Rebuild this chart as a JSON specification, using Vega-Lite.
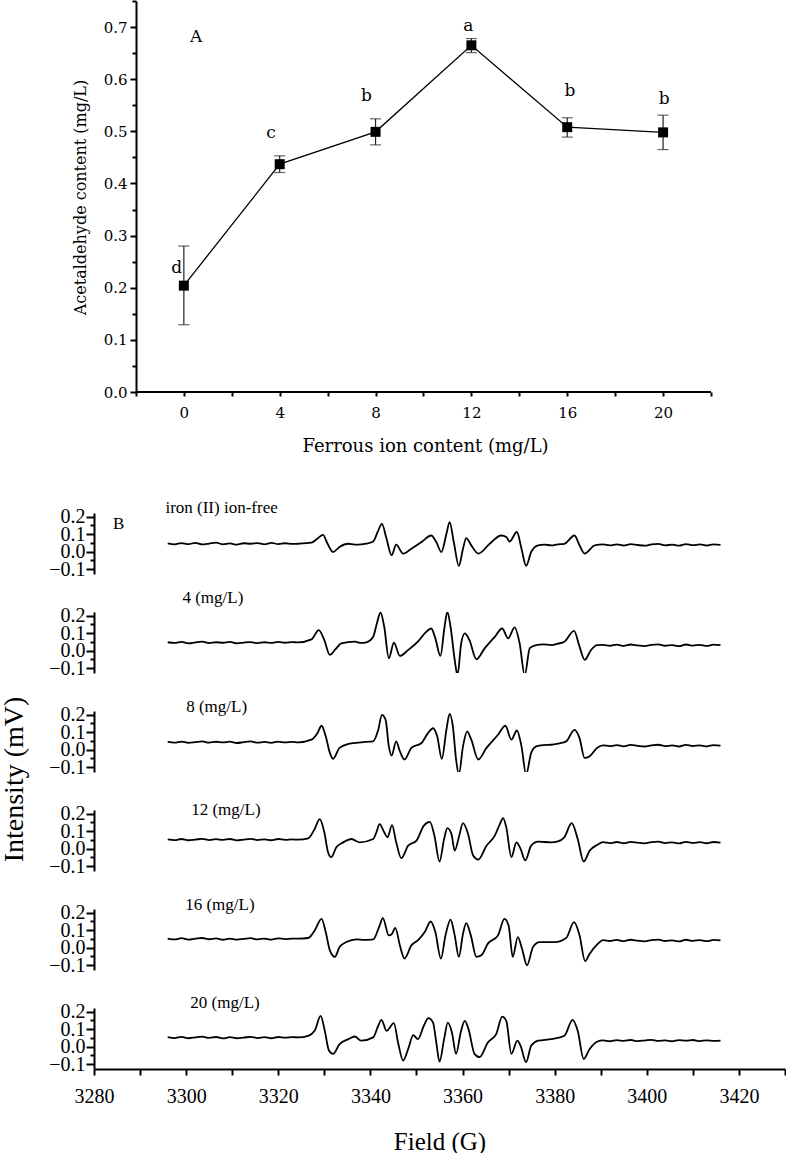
{
"$schema":"https://vega.github.io/schema/vega-lite/v6.json",
"background":"white",
"padding":0,
"config":{"view":{"stroke":null},"axis":{"domainColor":"black","tickColor":"black","domainWidth":2,"tickWidth":2,"labelColor":"black","titleColor":"black","grid":false,"titleFontWeight":"normal","labelOverlap":false,"labelFlush":false}},
"datasets":{
"acet":[{"fe":0,"m":0.204,"lo":0.129,"hi":0.280},{"fe":4,"m":0.437,"lo":0.421,"hi":0.453},{"fe":8,"m":0.499,"lo":0.474,"hi":0.524},{"fe":12,"m":0.665,"lo":0.651,"hi":0.678},{"fe":16,"m":0.508,"lo":0.489,"hi":0.526},{"fe":20,"m":0.498,"lo":0.465,"hi":0.531}],
"letters":[{"lx":-0.3,"ly":0.237,"t":"d"},{"lx":3.64,"ly":0.496,"t":"c"},{"lx":7.62,"ly":0.568,"t":"b"},{"lx":11.875,"ly":0.702,"t":"a"},{"lx":16.11,"ly":0.578,"t":"b"},{"lx":20.05,"ly":0.562,"t":"b"},{"lx":0.51,"ly":0.681,"t":"A"}],
"xline":[{"a":-2,"b":22,"y":0}],
"p1":[{"f":3296,"v":0.047},{"f":3297.5,"v":0.042},{"f":3299,"v":0.049},{"f":3300.5,"v":0.043},{"f":3302,"v":0.050},{"f":3303.5,"v":0.041},{"f":3305,"v":0.046},{"f":3306.5,"v":0.051},{"f":3308,"v":0.042},{"f":3309.5,"v":0.047},{"f":3311,"v":0.040},{"f":3312.5,"v":0.048},{"f":3314,"v":0.045},{"f":3315.5,"v":0.049},{"f":3317,"v":0.042},{"f":3318.5,"v":0.050},{"f":3320,"v":0.043},{"f":3321.5,"v":0.048},{"f":3323,"v":0.044},
{"f":3324.3,"v":0.045},{"f":3327.2,"v":0.051},{"f":3328.6,"v":0.077},{"f":3329.7,"v":0.096},{"f":3330.7,"v":0.045},{"f":3331.9,"v":-0.002},{"f":3333.3,"v":0.027},{"f":3335.2,"v":0.045},{"f":3336.6,"v":0.040},{"f":3338.0,"v":0.041},{"f":3339.1,"v":0.046},{"f":3340.6,"v":0.058},{"f":3341.7,"v":0.120},{"f":3342.5,"v":0.158},{"f":3343.5,"v":0.073},{"f":3344.6,"v":-0.020},{"f":3345.6,"v":0.040},{"f":3347.1,"v":-0.011},{"f":3348.9,"v":0.017},{"f":3351.1,"v":0.055},{"f":3353.2,"v":0.092},{"f":3354.3,"v":0.055},{"f":3355.4,"v":-0.002},{"f":3356.5,"v":0.101},{"f":3357.2,"v":0.168},{"f":3358.1,"v":0.055},{"f":3359.2,"v":-0.081},{"f":3360.1,"v":0.017},{"f":3360.8,"v":0.077},{"f":3361.9,"v":0.036},{"f":3363.4,"v":-0.011},{"f":3365.9,"v":0.045},{"f":3368.4,"v":0.092},{"f":3369.5,"v":0.083},{"f":3370.2,"v":0.058},{"f":3371.8,"v":0.112},{"f":3372.8,"v":0.017},{"f":3373.8,"v":-0.081},{"f":3374.9,"v":-0.002},{"f":3376.4,"v":0.036},{"f":3377.8,"v":0.040},{"f":3379.3,"v":0.036},{"f":3380.7,"v":0.042},{"f":3382.1,"v":0.045},{"f":3384.3,"v":0.092},{"f":3385.4,"v":0.036},{"f":3386.5,"v":-0.011},{"f":3388.7,"v":0.036},
{"f":3390.5,"v":0.041},{"f":3392,"v":0.036},{"f":3393.5,"v":0.042},{"f":3395,"v":0.035},{"f":3396.5,"v":0.043},{"f":3398,"v":0.038},{"f":3399.5,"v":0.034},{"f":3401,"v":0.041},{"f":3402.5,"v":0.044},{"f":3404,"v":0.036},{"f":3405.5,"v":0.040},{"f":3407,"v":0.034},{"f":3408.5,"v":0.043},{"f":3410,"v":0.037},{"f":3411.5,"v":0.041},{"f":3413,"v":0.035},{"f":3414.5,"v":0.042},{"f":3416,"v":0.039}],
"p2":[{"f":3296,"v":0.048},{"f":3297.5,"v":0.044},{"f":3299,"v":0.050},{"f":3300.5,"v":0.042},{"f":3302,"v":0.047},{"f":3303.5,"v":0.051},{"f":3305,"v":0.043},{"f":3306.5,"v":0.048},{"f":3308,"v":0.045},{"f":3309.5,"v":0.050},{"f":3311,"v":0.041},{"f":3312.5,"v":0.046},{"f":3314,"v":0.049},{"f":3315.5,"v":0.043},{"f":3317,"v":0.048},{"f":3318.5,"v":0.044},{"f":3320,"v":0.050},{"f":3321.5,"v":0.045},{"f":3323,"v":0.049},
{"f":3324.3,"v":0.047},{"f":3327.2,"v":0.064},{"f":3328.8,"v":0.117},{"f":3330.0,"v":0.060},{"f":3331.2,"v":-0.024},{"f":3332.3,"v":0.004},{"f":3333.7,"v":0.041},{"f":3336.6,"v":0.051},{"f":3338.0,"v":0.044},{"f":3339.1,"v":0.047},{"f":3340.6,"v":0.079},{"f":3341.4,"v":0.155},{"f":3342.2,"v":0.217},{"f":3343.0,"v":0.136},{"f":3344.0,"v":-0.043},{"f":3345.1,"v":0.045},{"f":3346.4,"v":-0.030},{"f":3348.2,"v":0.004},{"f":3350.3,"v":0.051},{"f":3352.1,"v":0.107},{"f":3353.2,"v":0.126},{"f":3354.1,"v":0.070},{"f":3355.2,"v":-0.030},{"f":3356.1,"v":0.136},{"f":3356.7,"v":0.220},{"f":3357.4,"v":0.136},{"f":3358.3,"v":-0.052},{"f":3358.9,"v":-0.140},{"f":3359.7,"v":0.041},{"f":3360.5,"v":0.098},{"f":3361.5,"v":0.060},{"f":3363.0,"v":-0.049},{"f":3364.8,"v":0.013},{"f":3367.0,"v":0.079},{"f":3368.6,"v":0.126},{"f":3369.9,"v":0.070},{"f":3371.3,"v":0.132},{"f":3372.4,"v":0.041},{"f":3373.5,"v":-0.140},{"f":3374.6,"v":0.015},{"f":3376.0,"v":0.032},{"f":3377.5,"v":0.036},{"f":3379.3,"v":0.032},{"f":3380.7,"v":0.040},{"f":3382.1,"v":0.051},{"f":3384.2,"v":0.113},{"f":3385.4,"v":0.023},{"f":3386.5,"v":-0.052},{"f":3387.9,"v":0.004},{"f":3389.2,"v":0.032},
{"f":3390.5,"v":0.033},{"f":3392,"v":0.028},{"f":3393.5,"v":0.034},{"f":3395,"v":0.027},{"f":3396.5,"v":0.035},{"f":3398,"v":0.030},{"f":3399.5,"v":0.026},{"f":3401,"v":0.033},{"f":3402.5,"v":0.036},{"f":3404,"v":0.028},{"f":3405.5,"v":0.032},{"f":3407,"v":0.026},{"f":3408.5,"v":0.035},{"f":3410,"v":0.029},{"f":3411.5,"v":0.033},{"f":3413,"v":0.027},{"f":3414.5,"v":0.034},{"f":3416,"v":0.031}],
"p3":[{"f":3296,"v":0.044},{"f":3297.5,"v":0.040},{"f":3299,"v":0.046},{"f":3300.5,"v":0.039},{"f":3302,"v":0.043},{"f":3303.5,"v":0.047},{"f":3305,"v":0.040},{"f":3306.5,"v":0.045},{"f":3308,"v":0.041},{"f":3309.5,"v":0.046},{"f":3311,"v":0.038},{"f":3312.5,"v":0.043},{"f":3314,"v":0.047},{"f":3315.5,"v":0.040},{"f":3317,"v":0.044},{"f":3318.5,"v":0.039},{"f":3320,"v":0.046},{"f":3321.5,"v":0.041},{"f":3323,"v":0.044},
{"f":3324.3,"v":0.042},{"f":3327.2,"v":0.057},{"f":3328.5,"v":0.094},{"f":3329.4,"v":0.136},{"f":3330.3,"v":0.076},{"f":3331.2,"v":-0.018},{"f":3331.9,"v":-0.052},{"f":3333.3,"v":0.010},{"f":3335.5,"v":0.034},{"f":3338.0,"v":0.042},{"f":3340.6,"v":0.047},{"f":3341.7,"v":0.113},{"f":3342.5,"v":0.198},{"f":3343.3,"v":0.170},{"f":3344.0,"v":0.019},{"f":3344.6,"v":-0.033},{"f":3345.6,"v":0.047},{"f":3346.4,"v":-0.009},{"f":3347.4,"v":-0.056},{"f":3348.9,"v":0.010},{"f":3351.1,"v":0.038},{"f":3352.5,"v":0.094},{"f":3353.6,"v":0.122},{"f":3354.5,"v":0.076},{"f":3355.5,"v":-0.052},{"f":3356.5,"v":0.113},{"f":3357.2,"v":0.204},{"f":3357.9,"v":0.132},{"f":3358.6,"v":-0.056},{"f":3359.2,"v":-0.141},{"f":3360.1,"v":0.019},{"f":3361.0,"v":0.104},{"f":3361.9,"v":0.057},{"f":3363.4,"v":-0.056},{"f":3365.2,"v":0.010},{"f":3367.7,"v":0.085},{"f":3369.3,"v":0.136},{"f":3370.6,"v":0.057},{"f":3371.8,"v":0.109},{"f":3372.8,"v":0.019},{"f":3373.8,"v":-0.141},{"f":3374.9,"v":-0.018},{"f":3376.0,"v":0.019},{"f":3377.5,"v":0.026},{"f":3379.3,"v":0.028},{"f":3380.8,"v":0.035},{"f":3382.5,"v":0.047},{"f":3384.3,"v":0.113},{"f":3385.4,"v":0.066},{"f":3386.5,"v":-0.047},{"f":3387.6,"v":-0.037},{"f":3389.2,"v":0.010},
{"f":3390.5,"v":0.025},{"f":3392,"v":0.020},{"f":3393.5,"v":0.026},{"f":3395,"v":0.019},{"f":3396.5,"v":0.027},{"f":3398,"v":0.022},{"f":3399.5,"v":0.018},{"f":3401,"v":0.025},{"f":3402.5,"v":0.028},{"f":3404,"v":0.020},{"f":3405.5,"v":0.024},{"f":3407,"v":0.018},{"f":3408.5,"v":0.027},{"f":3410,"v":0.021},{"f":3411.5,"v":0.025},{"f":3413,"v":0.019},{"f":3414.5,"v":0.026},{"f":3416,"v":0.023}],
"p4":[{"f":3296,"v":0.053},{"f":3297.5,"v":0.049},{"f":3299,"v":0.055},{"f":3300.5,"v":0.048},{"f":3302,"v":0.052},{"f":3303.5,"v":0.056},{"f":3305,"v":0.049},{"f":3306.5,"v":0.054},{"f":3308,"v":0.050},{"f":3309.5,"v":0.055},{"f":3311,"v":0.047},{"f":3312.5,"v":0.052},{"f":3314,"v":0.056},{"f":3315.5,"v":0.049},{"f":3317,"v":0.053},{"f":3318.5,"v":0.048},{"f":3320,"v":0.055},{"f":3321.5,"v":0.050},{"f":3323,"v":0.053},
{"f":3324.3,"v":0.051},{"f":3326.5,"v":0.059},{"f":3327.9,"v":0.112},{"f":3329.0,"v":0.168},{"f":3330.0,"v":0.093},{"f":3330.8,"v":-0.020},{"f":3331.5,"v":-0.048},{"f":3332.6,"v":0.008},{"f":3334.1,"v":0.036},{"f":3335.9,"v":0.055},{"f":3337.7,"v":0.036},{"f":3340.6,"v":0.055},{"f":3341.3,"v":0.093},{"f":3342.0,"v":0.140},{"f":3343.0,"v":0.093},{"f":3343.7,"v":0.065},{"f":3344.7,"v":0.134},{"f":3345.6,"v":0.036},{"f":3346.7,"v":-0.054},{"f":3348.2,"v":0.017},{"f":3350.0,"v":0.046},{"f":3351.6,"v":0.131},{"f":3352.9,"v":0.153},{"f":3353.9,"v":0.074},{"f":3355.0,"v":-0.073},{"f":3356.0,"v":0.055},{"f":3356.7,"v":0.117},{"f":3357.6,"v":0.083},{"f":3358.3,"v":-0.011},{"f":3359.2,"v":0.065},{"f":3360.1,"v":0.145},{"f":3361.2,"v":0.083},{"f":3362.3,"v":-0.039},{"f":3363.4,"v":-0.062},{"f":3365.2,"v":0.017},{"f":3367.0,"v":0.074},{"f":3368.1,"v":0.140},{"f":3368.8,"v":0.174},{"f":3369.5,"v":0.121},{"f":3370.6,"v":-0.048},{"f":3371.7,"v":0.036},{"f":3372.6,"v":-0.001},{"f":3373.6,"v":-0.067},{"f":3374.9,"v":0.017},{"f":3376.4,"v":0.040},{"f":3379.3,"v":0.036},{"f":3380.7,"v":0.041},{"f":3382.1,"v":0.065},{"f":3383.7,"v":0.145},{"f":3385.0,"v":0.055},{"f":3386.3,"v":-0.073},{"f":3387.6,"v":-0.011},{"f":3389.2,"v":0.021},
{"f":3390.5,"v":0.037},{"f":3392,"v":0.032},{"f":3393.5,"v":0.038},{"f":3395,"v":0.031},{"f":3396.5,"v":0.039},{"f":3398,"v":0.034},{"f":3399.5,"v":0.030},{"f":3401,"v":0.037},{"f":3402.5,"v":0.040},{"f":3404,"v":0.032},{"f":3405.5,"v":0.036},{"f":3407,"v":0.030},{"f":3408.5,"v":0.039},{"f":3410,"v":0.033},{"f":3411.5,"v":0.037},{"f":3413,"v":0.031},{"f":3414.5,"v":0.038},{"f":3416,"v":0.035}],
"p5":[{"f":3296,"v":0.052},{"f":3297.5,"v":0.047},{"f":3299,"v":0.054},{"f":3300.5,"v":0.046},{"f":3302,"v":0.051},{"f":3303.5,"v":0.055},{"f":3305,"v":0.048},{"f":3306.5,"v":0.053},{"f":3308,"v":0.045},{"f":3309.5,"v":0.052},{"f":3311,"v":0.046},{"f":3312.5,"v":0.050},{"f":3314,"v":0.054},{"f":3315.5,"v":0.047},{"f":3317,"v":0.052},{"f":3318.5,"v":0.046},{"f":3320,"v":0.053},{"f":3321.5,"v":0.049},{"f":3323,"v":0.052},
{"f":3324.3,"v":0.051},{"f":3326.5,"v":0.055},{"f":3327.9,"v":0.098},{"f":3329.4,"v":0.164},{"f":3330.3,"v":0.089},{"f":3331.2,"v":-0.015},{"f":3332.3,"v":-0.052},{"f":3333.3,"v":0.004},{"f":3334.8,"v":0.032},{"f":3337.0,"v":0.047},{"f":3338.6,"v":0.044},{"f":3340.6,"v":0.047},{"f":3342.0,"v":0.126},{"f":3342.7,"v":0.168},{"f":3344.0,"v":0.070},{"f":3344.7,"v":0.079},{"f":3345.4,"v":0.113},{"f":3346.4,"v":0.013},{"f":3347.4,"v":-0.062},{"f":3348.9,"v":0.013},{"f":3350.3,"v":0.042},{"f":3351.8,"v":0.089},{"f":3353.1,"v":0.149},{"f":3354.1,"v":0.089},{"f":3355.3,"v":-0.062},{"f":3356.3,"v":0.070},{"f":3357.4,"v":0.160},{"f":3358.3,"v":0.070},{"f":3359.2,"v":-0.052},{"f":3360.1,"v":0.079},{"f":3360.8,"v":0.140},{"f":3361.8,"v":0.070},{"f":3363.0,"v":-0.052},{"f":3364.1,"v":-0.043},{"f":3365.5,"v":0.023},{"f":3367.7,"v":0.070},{"f":3369.1,"v":0.164},{"f":3370.0,"v":0.126},{"f":3370.9,"v":-0.052},{"f":3372.0,"v":0.060},{"f":3372.9,"v":-0.005},{"f":3374.0,"v":-0.100},{"f":3375.3,"v":0.004},{"f":3376.7,"v":0.032},{"f":3380.0,"v":0.032},{"f":3382.5,"v":0.055},{"f":3384.2,"v":0.145},{"f":3385.4,"v":0.070},{"f":3386.6,"v":-0.077},{"f":3387.6,"v":-0.034},{"f":3389.2,"v":0.017},
{"f":3390.5,"v":0.043},{"f":3392,"v":0.038},{"f":3393.5,"v":0.044},{"f":3395,"v":0.037},{"f":3396.5,"v":0.045},{"f":3398,"v":0.040},{"f":3399.5,"v":0.036},{"f":3401,"v":0.043},{"f":3402.5,"v":0.046},{"f":3404,"v":0.038},{"f":3405.5,"v":0.042},{"f":3407,"v":0.036},{"f":3408.5,"v":0.045},{"f":3410,"v":0.039},{"f":3411.5,"v":0.043},{"f":3413,"v":0.037},{"f":3414.5,"v":0.044},{"f":3416,"v":0.041}],
"p6":[{"f":3296,"v":0.054},{"f":3297.5,"v":0.049},{"f":3299,"v":0.056},{"f":3300.5,"v":0.048},{"f":3302,"v":0.053},{"f":3303.5,"v":0.057},{"f":3305,"v":0.050},{"f":3306.5,"v":0.055},{"f":3308,"v":0.047},{"f":3309.5,"v":0.054},{"f":3311,"v":0.048},{"f":3312.5,"v":0.052},{"f":3314,"v":0.056},{"f":3315.5,"v":0.049},{"f":3317,"v":0.054},{"f":3318.5,"v":0.048},{"f":3320,"v":0.055},{"f":3321.5,"v":0.051},{"f":3323,"v":0.054},
{"f":3324.3,"v":0.053},{"f":3326.5,"v":0.062},{"f":3327.9,"v":0.090},{"f":3329.2,"v":0.175},{"f":3330.1,"v":0.090},{"f":3331.0,"v":-0.022},{"f":3331.9,"v":-0.041},{"f":3333.3,"v":0.015},{"f":3335.2,"v":0.043},{"f":3336.6,"v":0.058},{"f":3338.0,"v":0.034},{"f":3340.6,"v":0.053},{"f":3341.7,"v":0.119},{"f":3342.4,"v":0.153},{"f":3343.5,"v":0.090},{"f":3345.1,"v":0.134},{"f":3346.0,"v":0.024},{"f":3347.1,"v":-0.079},{"f":3348.2,"v":-0.013},{"f":3349.3,"v":0.066},{"f":3350.3,"v":0.043},{"f":3351.6,"v":0.119},{"f":3352.6,"v":0.162},{"f":3353.6,"v":0.137},{"f":3354.3,"v":0.024},{"f":3355.0,"v":-0.085},{"f":3356.0,"v":0.043},{"f":3356.8,"v":0.137},{"f":3357.7,"v":0.081},{"f":3358.6,"v":-0.041},{"f":3359.6,"v":0.081},{"f":3360.5,"v":0.147},{"f":3361.3,"v":0.100},{"f":3362.6,"v":-0.041},{"f":3363.7,"v":-0.060},{"f":3365.5,"v":0.024},{"f":3367.3,"v":0.071},{"f":3368.6,"v":0.171},{"f":3369.5,"v":0.147},{"f":3370.6,"v":-0.041},{"f":3371.9,"v":0.034},{"f":3372.6,"v":0.005},{"f":3373.8,"v":-0.088},{"f":3374.9,"v":0.005},{"f":3376.4,"v":0.034},{"f":3379.3,"v":0.043},{"f":3382.1,"v":0.062},{"f":3383.9,"v":0.153},{"f":3385.0,"v":0.090},{"f":3386.3,"v":-0.070},{"f":3387.6,"v":-0.013},{"f":3389.2,"v":0.028},
{"f":3390.5,"v":0.036},{"f":3392,"v":0.031},{"f":3393.5,"v":0.037},{"f":3395,"v":0.033},{"f":3396.5,"v":0.038},{"f":3398,"v":0.032},{"f":3399.5,"v":0.035},{"f":3401,"v":0.039},{"f":3402.5,"v":0.033},{"f":3404,"v":0.036},{"f":3405.5,"v":0.031},{"f":3407,"v":0.037},{"f":3408.5,"v":0.034},{"f":3410,"v":0.038},{"f":3411.5,"v":0.032},{"f":3413,"v":0.036},{"f":3414.5,"v":0.033},{"f":3416,"v":0.035}]
},
"vconcat":[
{
"width":617,"height":391,
"layer":[
{"data":{"name":"acet"},"mark":{"type":"rule","color":"#222","strokeWidth":1.2},
 "encoding":{"x":{"field":"fe","type":"quantitative","scale":{"domain":[-3.75,22],"nice":false,"zero":false},
   "axis":{"values":[-2,0,2,4,6,8,10,12,14,16,18,20,22],"domain":false,"labelExpr":"datum.value % 4 == 0 && datum.value >= 0 ? datum.label : ''","tickSize":4,"labelPadding":9,"labelFont":"DejaVu Serif","labelFontSize":15,"title":"Ferrous ion content (mg/L)","titleFont":"DejaVu Serif","titleFontSize":18,"titleX":331,"titleY":59,"titleBaseline":"alphabetic"}},
  "y":{"field":"lo","type":"quantitative","scale":{"domain":[0,0.75],"nice":false},
   "axis":{"orient":"left","offset":-42,"values":[0,0.1,0.2,0.3,0.4,0.5,0.6,0.7],"format":".1f","tickSize":6,"labelPadding":3,"labelFont":"DejaVu Serif","labelFontSize":15,"title":"Acetaldehyde content (mg/L)","titleFont":"DejaVu Serif","titleFontSize":16,"titleX":-51,"titleY":196,"titleBaseline":"alphabetic"}},
  "y2":{"field":"hi"}}},
{"data":{"name":"acet"},"mark":{"type":"tick","orient":"horizontal","size":11,"thickness":1.2,"color":"#222"},
 "encoding":{"x":{"field":"fe","type":"quantitative"},"y":{"field":"lo","type":"quantitative","axis":{"orient":"left","offset":-42,"values":[0.05,0.15,0.25,0.35,0.45,0.55,0.65,0.75],"tickSize":4,"labels":false,"domain":false,"title":null}}}},
{"data":{"name":"acet"},"mark":{"type":"tick","orient":"horizontal","size":11,"thickness":1.2,"color":"#222"},
 "encoding":{"x":{"field":"fe","type":"quantitative"},"y":{"field":"hi","type":"quantitative","axis":null}}},
{"data":{"name":"xline"},"mark":{"type":"rule","color":"black","strokeWidth":2},
 "encoding":{"x":{"field":"a","type":"quantitative"},"x2":{"field":"b"},"y":{"field":"y","type":"quantitative","axis":null}}},
{"data":{"name":"acet"},"mark":{"type":"line","color":"black","strokeWidth":1.3},
 "encoding":{"x":{"field":"fe","type":"quantitative"},"y":{"field":"m","type":"quantitative","axis":null}}},
{"data":{"name":"acet"},"mark":{"type":"square","size":100,"color":"black","opacity":1},
 "encoding":{"x":{"field":"fe","type":"quantitative"},"y":{"field":"m","type":"quantitative","axis":null}}},
{"data":{"name":"letters"},"mark":{"type":"text","font":"DejaVu Serif","fontSize":17,"align":"center","baseline":"middle","color":"black"},
 "encoding":{"x":{"field":"lx","type":"quantitative"},"y":{"field":"ly","type":"quantitative","axis":null},"text":{"field":"t"}}}
],
"resolve":{"axis":{"y":"independent"}}
},
{
"spacing":38,
"bounds":"flush",
"vconcat":[
{"width":691,"height":61,"layer":[
{"data":{"name":"p1"},"mark":{"type":"line","color":"black","strokeWidth":1.8,"interpolate":"monotone","clip":true},
 "encoding":{"x":{"field":"f","type":"quantitative","scale":{"domain":[3280,3430],"nice":false,"zero":false},"axis":null},
  "y":{"field":"v","type":"quantitative","scale":{"domain":[-0.127,0.22],"nice":false,"zero":false},"axis":{"orient":"left","values":[-0.1,0,0.1,0.2],"format":".1f","tickSize":8,"labelPadding":1,"labelFont":"Liberation Serif","labelFontSize":20,"title":null}}}},
{"data":{"values":[{"lx":3295.5,"ly":0.247,"t":"iron (II) ion-free"},{"lx":3284.1,"ly":0.156,"t":"B"}]},"mark":{"type":"text","align":"left","baseline":"middle","font":"Liberation Serif","fontSize":17,"color":"black"},
 "encoding":{"x":{"field":"lx","type":"quantitative","scale":{"domain":[3280,3430],"nice":false,"zero":false},"axis":null},
  "y":{"field":"ly","type":"quantitative","scale":{"domain":[-0.127,0.22],"nice":false,"zero":false},"axis":{"orient":"left","values":[-0.05,0.05,0.15],"tickSize":4,"labels":false,"domain":false,"title":null}},"text":{"field":"t"}}}
],"resolve":{"axis":{"y":"independent"}}},
{"width":691,"height":61,"layer":[
{"data":{"name":"p2"},"mark":{"type":"line","color":"black","strokeWidth":1.8,"interpolate":"monotone","clip":true},
 "encoding":{"x":{"field":"f","type":"quantitative","scale":{"domain":[3280,3430],"nice":false,"zero":false},"axis":null},
  "y":{"field":"v","type":"quantitative","scale":{"domain":[-0.127,0.22],"nice":false,"zero":false},"axis":{"orient":"left","values":[-0.1,0,0.1,0.2],"format":".1f","tickSize":8,"labelPadding":1,"labelFont":"Liberation Serif","labelFontSize":20,"title":null}}}},
{"data":{"values":[{"lx":3299.2,"ly":0.298,"t":"4 (mg/L)"}]},"mark":{"type":"text","align":"left","baseline":"middle","font":"Liberation Serif","fontSize":17,"color":"black"},
 "encoding":{"x":{"field":"lx","type":"quantitative","scale":{"domain":[3280,3430],"nice":false,"zero":false},"axis":null},
  "y":{"field":"ly","type":"quantitative","scale":{"domain":[-0.127,0.22],"nice":false,"zero":false},"axis":{"orient":"left","values":[-0.05,0.05,0.15],"tickSize":4,"labels":false,"domain":false,"title":null}},"text":{"field":"t"}}}
],"resolve":{"axis":{"y":"independent"}}},
{"width":691,"height":61,"layer":[
{"data":{"name":"p3"},"mark":{"type":"line","color":"black","strokeWidth":1.8,"interpolate":"monotone","clip":true},
 "encoding":{"x":{"field":"f","type":"quantitative","scale":{"domain":[3280,3430],"nice":false,"zero":false},"axis":null},
  "y":{"field":"v","type":"quantitative","scale":{"domain":[-0.127,0.22],"nice":false,"zero":false},"axis":{"orient":"left","values":[-0.1,0,0.1,0.2],"format":".1f","tickSize":8,"labelPadding":1,"labelFont":"Liberation Serif","labelFontSize":20,"title":"Intensity (mV)","titleFont":"Liberation Serif","titleFontSize":28,"titleX":-72,"titleY":68,"titleBaseline":"alphabetic"}}}},
{"data":{"values":[{"lx":3300.0,"ly":0.2435,"t":"8 (mg/L)"}]},"mark":{"type":"text","align":"left","baseline":"middle","font":"Liberation Serif","fontSize":17,"color":"black"},
 "encoding":{"x":{"field":"lx","type":"quantitative","scale":{"domain":[3280,3430],"nice":false,"zero":false},"axis":null},
  "y":{"field":"ly","type":"quantitative","scale":{"domain":[-0.127,0.22],"nice":false,"zero":false},"axis":{"orient":"left","values":[-0.05,0.05,0.15],"tickSize":4,"labels":false,"domain":false,"title":null}},"text":{"field":"t"}}}
],"resolve":{"axis":{"y":"independent"}}},
{"width":691,"height":61,"layer":[
{"data":{"name":"p4"},"mark":{"type":"line","color":"black","strokeWidth":1.8,"interpolate":"monotone","clip":true},
 "encoding":{"x":{"field":"f","type":"quantitative","scale":{"domain":[3280,3430],"nice":false,"zero":false},"axis":null},
  "y":{"field":"v","type":"quantitative","scale":{"domain":[-0.127,0.22],"nice":false,"zero":false},"axis":{"orient":"left","values":[-0.1,0,0.1,0.2],"format":".1f","tickSize":8,"labelPadding":1,"labelFont":"Liberation Serif","labelFontSize":20,"title":null}}}},
{"data":{"values":[{"lx":3301.1,"ly":0.219,"t":"12 (mg/L)"}]},"mark":{"type":"text","align":"left","baseline":"middle","font":"Liberation Serif","fontSize":17,"color":"black"},
 "encoding":{"x":{"field":"lx","type":"quantitative","scale":{"domain":[3280,3430],"nice":false,"zero":false},"axis":null},
  "y":{"field":"ly","type":"quantitative","scale":{"domain":[-0.127,0.22],"nice":false,"zero":false},"axis":{"orient":"left","values":[-0.05,0.05,0.15],"tickSize":4,"labels":false,"domain":false,"title":null}},"text":{"field":"t"}}}
],"resolve":{"axis":{"y":"independent"}}},
{"width":691,"height":61,"layer":[
{"data":{"name":"p5"},"mark":{"type":"line","color":"black","strokeWidth":1.8,"interpolate":"monotone","clip":true},
 "encoding":{"x":{"field":"f","type":"quantitative","scale":{"domain":[3280,3430],"nice":false,"zero":false},"axis":null},
  "y":{"field":"v","type":"quantitative","scale":{"domain":[-0.127,0.22],"nice":false,"zero":false},"axis":{"orient":"left","values":[-0.1,0,0.1,0.2],"format":".1f","tickSize":8,"labelPadding":1,"labelFont":"Liberation Serif","labelFontSize":20,"title":null}}}},
{"data":{"values":[{"lx":3299.8,"ly":0.241,"t":"16 (mg/L)"}]},"mark":{"type":"text","align":"left","baseline":"middle","font":"Liberation Serif","fontSize":17,"color":"black"},
 "encoding":{"x":{"field":"lx","type":"quantitative","scale":{"domain":[3280,3430],"nice":false,"zero":false},"axis":null},
  "y":{"field":"ly","type":"quantitative","scale":{"domain":[-0.127,0.22],"nice":false,"zero":false},"axis":{"orient":"left","values":[-0.05,0.05,0.15],"tickSize":4,"labels":false,"domain":false,"title":null}},"text":{"field":"t"}}}
],"resolve":{"axis":{"y":"independent"}}},
{"width":691,"height":61,"layer":[
{"data":{"name":"p6"},"mark":{"type":"line","color":"black","strokeWidth":1.8,"interpolate":"monotone","clip":true},
 "encoding":{"x":{"field":"f","type":"quantitative","scale":{"domain":[3280,3430],"nice":false,"zero":false},
   "axis":{"orient":"bottom","values":[3280,3290,3300,3310,3320,3330,3340,3350,3360,3370,3380,3390,3400,3410,3420,3430],"format":"d","labelExpr":"datum.value % 20 == 0 && datum.value < 3430 ? datum.label : ''","tickSize":6,"labelPadding":11,"labelFont":"Liberation Serif","labelFontSize":20,"title":"Field (G)","titleFont":"Liberation Serif","titleFontSize":25,"titleY":80,"titleBaseline":"alphabetic"}},
  "y":{"field":"v","type":"quantitative","scale":{"domain":[-0.127,0.22],"nice":false,"zero":false},"axis":{"orient":"left","values":[-0.1,0,0.1,0.2],"format":".1f","tickSize":8,"labelPadding":1,"labelFont":"Liberation Serif","labelFontSize":20,"title":null}}}},
{"data":{"values":[{"lx":3300.9,"ly":0.251,"t":"20 (mg/L)"}]},"mark":{"type":"text","align":"left","baseline":"middle","font":"Liberation Serif","fontSize":17,"color":"black"},
 "encoding":{"x":{"field":"lx","type":"quantitative","scale":{"domain":[3280,3430],"nice":false,"zero":false}},
  "y":{"field":"ly","type":"quantitative","scale":{"domain":[-0.127,0.22],"nice":false,"zero":false},"axis":{"orient":"left","values":[-0.05,0.05,0.15],"tickSize":4,"labels":false,"domain":false,"title":null}},"text":{"field":"t"}}}
],"resolve":{"axis":{"y":"independent"}}}
]
}
],
"spacing":121,
"bounds":"flush"
}
